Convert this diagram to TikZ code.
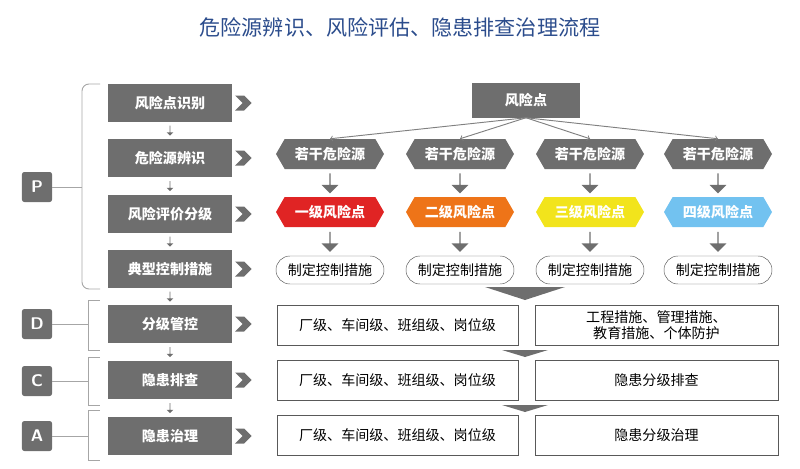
\documentclass[tikz,border=0pt]{standalone}
\usepackage{fontspec}
\newfontfamily\cjk{Noto Sans CJK SC}
\usetikzlibrary{shapes.geometric, shapes.symbols, shapes.arrows, positioning, calc}
\definecolor{boxgray}{HTML}{6E6E6E}
\definecolor{titleblue}{HTML}{2B4C8C}
\definecolor{lvone}{HTML}{E02424}
\definecolor{lvtwo}{HTML}{EE7418}
\definecolor{lvthree}{HTML}{F2E41C}
\definecolor{lvfour}{HTML}{72C2F0}
\tikzset{
  stagebox/.style={fill=boxgray, text=white, minimum width=3.72cm, minimum height=1.14cm, font=\cjk\fontsize{12}{12}\selectfont\bfseries},
  letter/.style={fill=boxgray, text=white, rounded corners=2pt, minimum size=0.9cm, font=\sffamily\bfseries\Large},
  hexa/.style={signal, signal to=east and west, signal pointer angle=120, minimum width=3.24cm, minimum height=0.9cm, inner sep=1pt, font=\cjk\fontsize{12}{12}\selectfont\bfseries},
  pill/.style={draw=gray!70!black, rounded corners=0.42cm, minimum width=3.24cm, minimum height=0.84cm, font=\cjk\fontsize{12}{12}\selectfont},
  wbox/.style={draw=gray!70!black, minimum height=1.2cm, align=center, font=\cjk\fontsize{12}{14}\selectfont},
  chev/.style={signal, signal to=east, signal from=west, fill=boxgray, minimum width=0.5cm, minimum height=0.45cm, inner sep=0pt},
  dnarr/.style={single arrow, shape border rotate=270, fill=boxgray, minimum width=0.5cm, minimum height=0.6cm, inner sep=0pt, single arrow head extend=0.1cm},
  tinyarr/.style={single arrow, shape border rotate=270, fill=boxgray, minimum width=0.2cm, minimum height=0.3cm, inner sep=0pt, single arrow head extend=0.05cm},
  line/.style={draw=gray!70, line width=0.8pt},
}
\begin{document}
\begin{tikzpicture}[x=0.03cm, y=-0.03cm]
\useasboundingbox (0,0) rectangle (800,468);
% title
\node[text=titleblue, font=\cjk\fontsize{18}{18}\selectfont] (title) at (400,27) {危险源辨识、风险评估、隐患排查治理流程};
% left column
\node[stagebox] (s1) at (170,103) {风险点识别};
\node[stagebox] (s2) at (170,158) {危险源辨识};
\node[stagebox] (s3) at (170,214) {风险评价分级};
\node[stagebox] (s4) at (170,269) {典型控制措施};
\node[stagebox] (s5) at (170,324) {分级管控};
\node[stagebox] (s6) at (170,380) {隐患排查};
\node[stagebox] (s7) at (170,436) {隐患治理};
\foreach \a/\b in {s1/s2,s2/s3,s3/s4,s4/s5,s5/s6,s6/s7}
  \node[tinyarr] at ($(\a.south)!0.5!(\b.north)$) {};
\foreach \s in {s1,s2,s3,s4,s5,s6,s7}
  \node[chev, right=0.3cm of \s] {};
% letters and brackets
\node[letter] (P) at (37,187) {P};
\node[letter] (D) at (37,324) {D};
\node[letter] (C) at (37,381) {C};
\node[letter] (A) at (37,436) {A};
\draw[line, rounded corners=6pt] (100,84) -- (82,84) -- (82,289) -- (100,289);
\draw[line] (P.east) -- (82,187);
\draw[line] (100,300) -- (88,300) -- (88,350) -- (100,350);
\draw[line] (100,357) -- (88,357) -- (88,405) -- (100,405);
\draw[line] (100,410) -- (88,410) -- (88,460) -- (100,460);
\draw[line] (D.east) -- (88,324);
\draw[line] (C.east) -- (88,381);
\draw[line] (A.east) -- (88,436);
% risk point
\node[stagebox, minimum width=3.24cm, minimum height=1.05cm] (rp) at (526,100) {风险点};
% columns
\foreach \x/\c/\t/\n in {330/lvone/一级风险点/1, 460/lvtwo/二级风险点/2, 590/lvthree/三级风险点/3, 718/lvfour/四级风险点/4}{
  \node[hexa, fill=boxgray, text=white] (h\n) at (\x,154) {若干危险源};
  \node[hexa, fill=\c, text=white] (l\n) at (\x,212) {\t};
  \node[pill] (m\n) at (\x,270) {制定控制措施};
  \node[dnarr] at ($(h\n.south)!0.5!(l\n.north)$) {};
  \node[dnarr] at ($(l\n.south)!0.5!(m\n.north)$) {};
  \draw[->, gray, line width=0.8pt] (rp.south) -- (h\n.north);
}
% bottom boxes
\node[wbox, minimum width=7.23cm] (d1) at (397.5,325) {厂级、车间级、班组级、岗位级};
\node[wbox, minimum width=7.29cm] (d2) at (656.5,325) {工程措施、管理措施、\\教育措施、个体防护};
\node[wbox, minimum width=7.23cm] (c1) at (397.5,380) {厂级、车间级、班组级、岗位级};
\node[wbox, minimum width=7.29cm] (c2) at (656.5,380) {隐患分级排查};
\node[wbox, minimum width=7.23cm] (a1) at (397.5,435) {厂级、车间级、班组级、岗位级};
\node[wbox, minimum width=7.29cm] (a2) at (656.5,435) {隐患分级治理};
\fill[boxgray] (485,287) -- (565,287) -- (525,300) -- cycle;
\fill[boxgray] (502,350) -- (548,350) -- (525,357) -- cycle;
\fill[boxgray] (502,405) -- (548,405) -- (525,412) -- cycle;
\end{tikzpicture}
\end{document}
